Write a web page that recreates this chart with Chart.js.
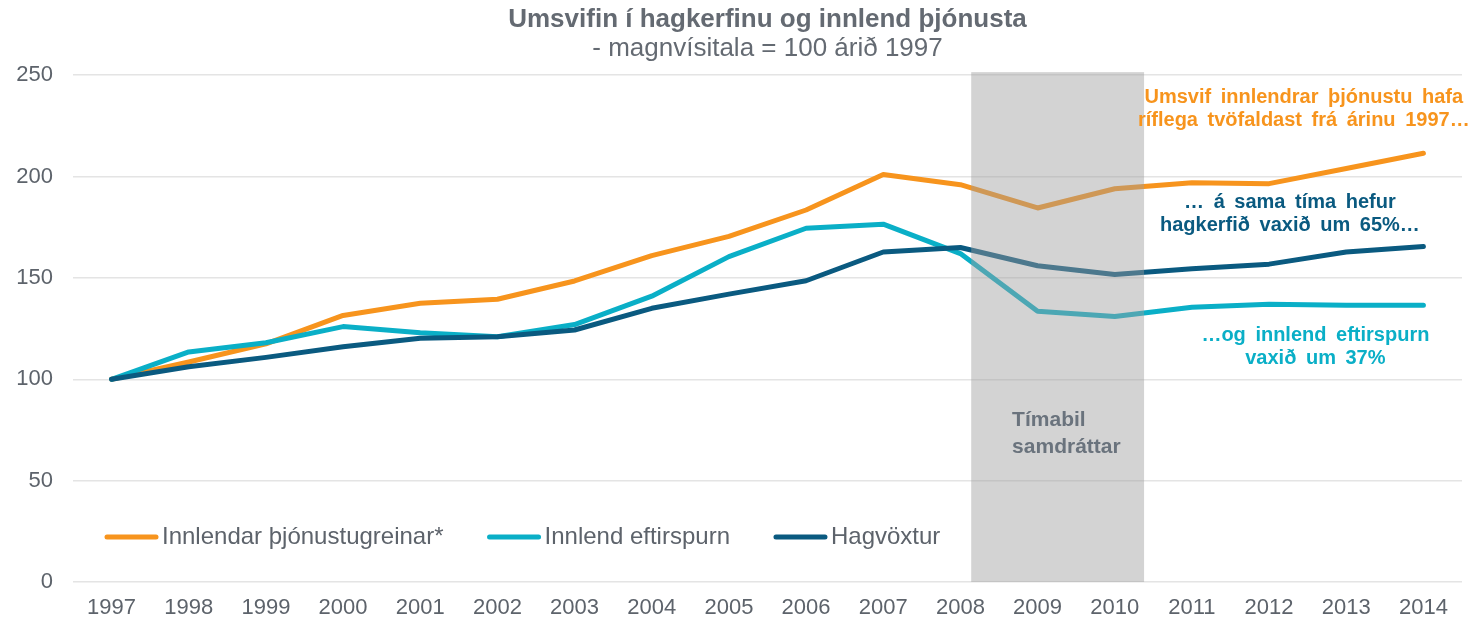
<!DOCTYPE html>
<html lang="is">
<head>
    <meta charset="UTF-8">
    <title>Umsvifin í hagkerfinu og innlend þjónusta</title>
    <script src="https://cdn.jsdelivr.net/npm/chart.js"></script>
    <style>
        html, body { margin: 0; padding: 0; background: #fff; }
        .chart-box { width: 1477px; height: 624px; }
    </style>
</head>
<body>
    <div class="chart-box">
        <canvas id="umsvifChart"></canvas>
    </div>

    <script>
        // gögn lesin af myndinni
        const years = ['1997', '1998', '1999', '2000', '2001', '2002', '2003', '2004', '2005',
                       '2006', '2007', '2008', '2009', '2010', '2011', '2012', '2013', '2014'];
        const thjonusta = [100, 108.5, 117.5, 131.5, 137.5, 139.5, 148.5, 161, 170.5,
                           183.5, 201, 196, 184.5, 194, 197, 196.5, 204, 211.5];
        const eftirspurn = [100, 113.5, 118, 126, 123, 121, 127, 141, 160.5,
                            174.5, 176.5, 162, 133.5, 131, 135.5, 137, 136.5, 136.5];
        const hagvoxtur = [100, 106.2, 110.8, 116, 120.2, 121, 124.3, 135, 142,
                           148.6, 162.8, 165, 156, 151.7, 154.5, 156.8, 162.8, 165.5];
        const yTicks = [0, 50, 100, 150, 200, 250];

        const ORANGE = '#F7941D';
        const CYAN = '#0AAFC7';
        const NAVY = '#0A5A80';
        const GREY_TEXT = '#5d636b';
        const FONT = "'Liberation Sans', Arial, sans-serif";

        // samdráttartímabil (grátt svæði)
        const recession = { from: 11.14, to: 13.38, top: 251.5 };

        // grátt svæði + texti í því
        const recessionPlugin = {
            id: 'recession',
            afterDatasetsDraw(chart) {
                const { ctx, scales: { x, y } } = chart;
                const x0 = x.getPixelForValue(recession.from);
                const x1 = x.getPixelForValue(recession.to);
                const yTop = y.getPixelForValue(recession.top);
                const yBot = y.getPixelForValue(0);
                ctx.save();
                ctx.fillStyle = 'rgba(157, 157, 157, 0.45)';
                ctx.fillRect(x0, yTop, x1 - x0, yBot - yTop);
                ctx.fillStyle = '#6a737d';
                ctx.font = 'bold 21px ' + FONT;
                ctx.textAlign = 'left';
                ctx.textBaseline = 'middle';
                const tx = x.getPixelForValue(11.67);
                ctx.fillText('Tímabil', tx, y.getPixelForValue(80));
                ctx.fillText('samdráttar', tx, y.getPixelForValue(66.6));
                ctx.restore();
            }
        };

        // athugasemdir hægra megin
        const notes = [
            { lines: ['Umsvif innlendrar þjónustu hafa', 'ríflega tvöfaldast frá árinu 1997…'], color: ORANGE, x: 15.45, y: [239.2, 227.8] },
            { lines: ['… á sama tíma hefur', 'hagkerfið vaxið um 65%…'], color: NAVY, x: 15.27, y: [187.4, 176] },
            { lines: ['…og innlend eftirspurn', 'vaxið um 37%'], color: CYAN, x: 15.6, y: [121.8, 110.5] }
        ];

        const notesPlugin = {
            id: 'notes',
            afterDraw(chart) {
                const { ctx, scales: { x, y } } = chart;
                ctx.save();
                ctx.font = 'bold 20px ' + FONT;
                ctx.textAlign = 'center';
                ctx.textBaseline = 'middle';
                ctx.wordSpacing = '4px';
                notes.forEach(n => {
                    ctx.fillStyle = n.color;
                    n.lines.forEach((line, i) => {
                        ctx.fillText(line, x.getPixelForValue(n.x), y.getPixelForValue(n.y[i]));
                    });
                });
                ctx.restore();
            }
        };

        // skýringar inni í teiknisvæðinu
        const legendPlugin = {
            id: 'innerLegend',
            afterDraw(chart) {
                const { ctx, chartArea, scales: { y } } = chart;
                const yPos = y.getPixelForValue(22.2);
                let xPos = chartArea.left + 32;
                ctx.save();
                ctx.font = '24px ' + FONT;
                ctx.textBaseline = 'middle';
                ctx.textAlign = 'left';
                chart.data.datasets.forEach(ds => {
                    ctx.strokeStyle = ds.borderColor;
                    ctx.lineWidth = 5;
                    ctx.lineCap = 'round';
                    ctx.beginPath();
                    ctx.moveTo(xPos + 2, yPos);
                    ctx.lineTo(xPos + 51, yPos);
                    ctx.stroke();
                    ctx.fillStyle = GREY_TEXT;
                    ctx.fillText(ds.label, xPos + 57, yPos);
                    xPos += 57 + ctx.measureText(ds.label).width + 44;
                });
                ctx.restore();
            }
        };

        const lineStyle = {
            borderWidth: 5,
            pointRadius: 0,
            tension: 0,
            fill: false,
            borderCapStyle: 'round',
            borderJoinStyle: 'round'
        };

        new Chart(document.getElementById('umsvifChart'), {
            type: 'line',
            data: {
                labels: years,
                datasets: [
                    { label: 'Innlendar þjónustugreinar*', data: thjonusta, borderColor: ORANGE, order: 3, ...lineStyle },
                    { label: 'Innlend eftirspurn', data: eftirspurn, borderColor: CYAN, order: 2, ...lineStyle },
                    { label: 'Hagvöxtur', data: hagvoxtur, borderColor: NAVY, order: 1, ...lineStyle }
                ]
            },
            options: {
                responsive: true,
                maintainAspectRatio: false,
                animation: false,
                layout: { padding: { left: 13, right: 15, top: 0, bottom: 3 } },
                plugins: {
                    legend: { display: false },
                    tooltip: { enabled: false },
                    title: {
                        display: true,
                        fullSize: false,
                        text: 'Umsvifin í hagkerfinu og innlend þjónusta',
                        color: '#646a72',
                        font: { family: FONT, size: 26, weight: 'bold', lineHeight: 1.1 },
                        padding: { top: 6, bottom: 0 }
                    },
                    subtitle: {
                        display: true,
                        fullSize: false,
                        text: '- magnvísitala = 100 árið 1997',
                        color: '#646a72',
                        font: { family: FONT, size: 26, lineHeight: 1.1 },
                        padding: { top: 0, bottom: 12 }
                    }
                },
                scales: {
                    x: {
                        offset: true,
                        grid: { display: false, drawTicks: false },
                        border: { display: false },
                        afterFit(scale) {
                            scale.height = 39;
                        },
                        ticks: {
                            color: GREY_TEXT,
                            font: { family: FONT, size: 22, lineHeight: 1.2 },
                            padding: 13,
                            maxRotation: 0,
                            autoSkip: false
                        }
                    },
                    y: {
                        min: 0,
                        max: 250,
                        afterBuildTicks(scale) {
                            scale.ticks = yTicks.map(v => ({ value: v }));
                        },
                        afterFit(scale) {
                            scale.width = 60;
                        },
                        grid: { color: '#e4e4e4', lineWidth: 1.5, drawTicks: false },
                        border: { display: false },
                        ticks: {
                            color: GREY_TEXT,
                            font: { family: FONT, size: 22 },
                            padding: 20
                        }
                    }
                }
            },
            plugins: [recessionPlugin, notesPlugin, legendPlugin]
        });
    </script>
</body>
</html>
